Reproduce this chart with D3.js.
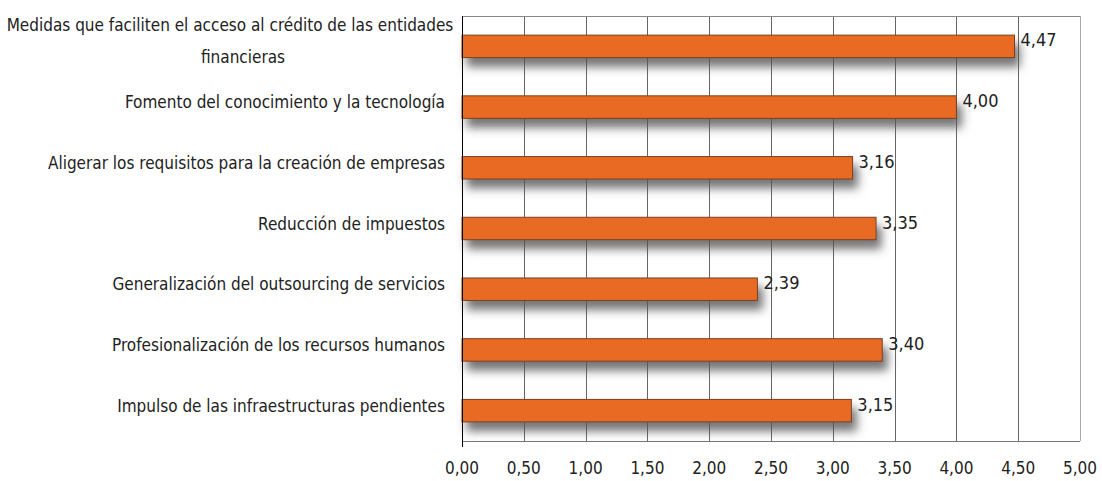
<!DOCTYPE html>
<meta charset="utf-8">
<style>
body { margin: 0; background: #fff; }
text { font-family: "Liberation Sans Narrow", "DejaVu Sans Condensed", "Roboto Condensed", sans-serif; fill: #222; }
.grid line { stroke-width: 1; shape-rendering: crispEdges; }
</style>
<script src="https://d3js.org/d3.v7.min.js"></script>
<body>
<div id="chart"></div>
<script>
// data
var categories = [
  "Medidas que faciliten el acceso al crédito de las entidades|financieras",
  "Fomento del conocimiento y la tecnología",
  "Aligerar los requisitos para la creación de empresas ",
  "Reducción de impuestos",
  "Generalización del outsourcing de servicios",
  "Profesionalización de los recursos humanos",
  "Impulso de las infraestructuras pendientes"
];
var values = [4.47, 4.00, 3.16, 3.35, 2.39, 3.40, 3.15];
var ticks = [0, 0.5, 1, 1.5, 2, 2.5, 3, 3.5, 4, 4.5, 5];

var W = 1102, H = 481;
var margin = {top: 16, right: 22, bottom: 40, left: 462},
    width = W - margin.left - margin.right,
    height = H - margin.top - margin.bottom;

var fmt = function(d) { return d3.format(".2f")(d).replace(".", ","); };

var svg = d3.select("#chart").append("svg")
    .attr("width", W).attr("height", H);

var defs = svg.append("defs");
var f = defs.append("filter").attr("id", "shadow")
    .attr("x", "-5%").attr("y", "-60%").attr("width", "115%").attr("height", "280%");
f.append("feDropShadow")
    .attr("dx", 5).attr("dy", 9).attr("stdDeviation", 5)
    .attr("flood-color", "#555").attr("flood-opacity", 0.8);

var g = svg.append("g")
    .attr("transform", "translate(" + margin.left + "," + margin.top + ")");

var x = d3.scaleLinear().domain([0, 5]).range([0, width]);
var y = d3.scaleBand().domain(categories).range([0, height]).paddingInner(0.63).paddingOuter(0.315);

// grid
g.append("g").attr("class", "grid")
  .selectAll("line").data(ticks.slice(1)).enter().append("line")
    .attr("x1", function(d) { return Math.round(x(d)) + 0.5; })
    .attr("x2", function(d) { return Math.round(x(d)) + 0.5; })
    .attr("y1", 0).attr("y2", height)
    .attr("stroke", function(d) { return d == 5 ? "#aaa" : "#666"; });

// top and bottom borders
g.append("line").attr("x1", 0).attr("x2", width).attr("y1", 0.5).attr("y2", 0.5)
  .attr("stroke", "#888").attr("shape-rendering", "crispEdges");
g.append("line").attr("x1", 0).attr("x2", width).attr("y1", height + 0.5).attr("y2", height + 0.5)
  .attr("stroke", "#777").attr("shape-rendering", "crispEdges");

// bars
g.selectAll(".bar").data(values).enter().append("rect")
    .attr("class", "bar")
    .attr("x", x(0))
    .attr("y", function(d, i) { return y(categories[i]); })
    .attr("width", function(d) { return x(d); })
    .attr("height", y.bandwidth())
    .attr("fill", "#E96B21")
    .attr("stroke", "#7a4020")
    .attr("stroke-width", 1)
    .attr("filter", "url(#shadow)");

// value labels
g.selectAll(".val").data(values).enter().append("text")
    .attr("x", function(d) { return x(d) + 6; })
    .attr("y", function(d, i) { return y(categories[i]) + y.bandwidth() / 2; })
    .style("font-size", "18px")
    .text(fmt);

// left axis
g.append("line").attr("x1", 0.5).attr("x2", 0.5).attr("y1", 0).attr("y2", height + 6)
  .attr("stroke", "#000").attr("shape-rendering", "crispEdges");

// category labels
categories.forEach(function(c, i) {
  var lines = c.split("|");
  var cy = y(c) + y.bandwidth() / 2;
  if (lines.length > 1) {
    var t = g.append("text")
      .attr("text-anchor", "middle")
      .style("font-size", "17px");
    lines.forEach(function(l, k) {
      t.append("tspan").attr("x", k == 0 ? -232 : -219).attr("y", cy - 15 + k * 32).text(l);
    });
  } else {
    g.append("text")
      .attr("x", -17)
      .attr("y", cy + 1)
      .attr("text-anchor", "end")
      .style("font-size", "17px")
      .text(c);
  }
});

// x axis labels
g.selectAll(".tick").data(ticks).enter().append("text")
    .attr("x", function(d) { return x(d); })
    .attr("y", height + 33)
    .attr("text-anchor", "middle")
    .style("font-size", "17px")
    .text(fmt);
</script>
</body>
